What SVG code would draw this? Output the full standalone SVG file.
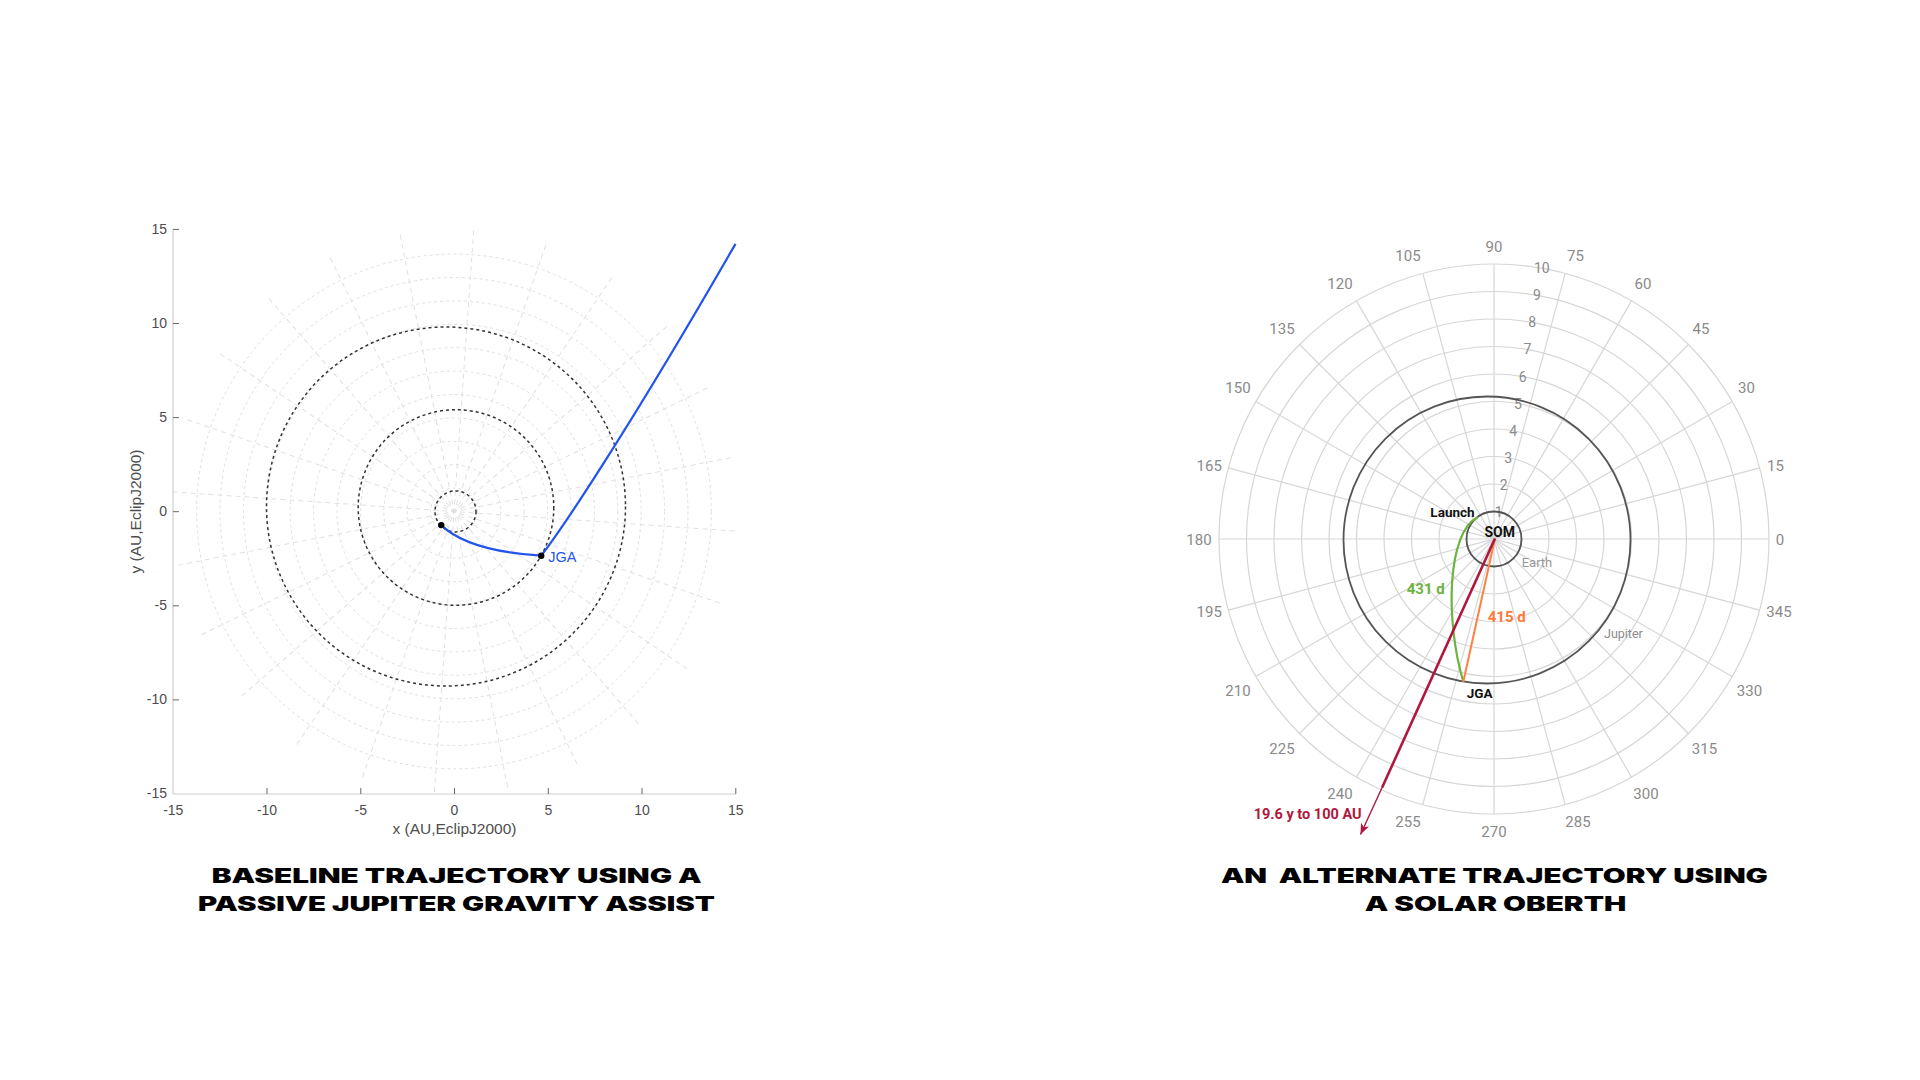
<svg xmlns="http://www.w3.org/2000/svg" width="1920" height="1080" viewBox="0 0 1920 1080">
<style>
.bg{fill:#ffffff}
.lgrid{fill:none;stroke:#e0e0e0;stroke-width:1;stroke-dasharray:3 3}
.lspoke{stroke:#e0e0e0;stroke-width:1;stroke-dasharray:5 4}
.orbit{fill:none;stroke:#333;stroke-width:1.5;stroke-dasharray:3 3}
.axis{stroke:#cfcfcf;stroke-width:1.2;fill:none}
.tick{stroke:#666;stroke-width:1}
.ltxt{font-family:"Liberation Sans",Arial,sans-serif;font-size:14px;fill:#4d4d4d}
.lax{font-family:"Liberation Sans",Arial,sans-serif;font-size:15.5px;fill:#4d4d4d}
.traj{fill:none;stroke:#2255ee;stroke-width:2.2}
.rring{fill:none;stroke:#d6d6d6;stroke-width:1.2}
.rspoke{stroke:#d6d6d6;stroke-width:1.2}
.rorbit{fill:none;stroke:#555;stroke-width:1.8}
.ang{font-family:Roboto,"Liberation Sans",sans-serif;font-size:15px;fill:#8a8a8a;text-anchor:middle;dominant-baseline:central}
.rad{font-family:Roboto,"Liberation Sans",sans-serif;font-size:14px;fill:#8a8a8a;text-anchor:middle;dominant-baseline:central}
.rb{font-family:Roboto,"Liberation Sans",sans-serif;font-weight:bold}
.title{font-family:Inter,"Liberation Sans",sans-serif;font-weight:900;font-size:19.5px;fill:#000;text-anchor:middle;white-space:pre}
</style>
<defs>
<clipPath id="axclip"><rect x="173" y="229" width="563" height="565"/></clipPath>
<marker id="arr" markerUnits="userSpaceOnUse" markerWidth="12" markerHeight="10" refX="11" refY="5" orient="auto">
<path d="M0,0.5 L11,5 L0,9.5 L3,5 z" fill="#b0173c"/>
</marker>
</defs>
<rect class="bg" x="0" y="0" width="1920" height="1080"/>

<g id="left-plot">
<g id="left-grid" clip-path="url(#axclip)">
<g transform="translate(454,511.5)">
<circle class="lgrid" r="23.4"/><circle class="lgrid" r="46.8"/><circle class="lgrid" r="70.2"/><circle class="lgrid" r="93.6"/>
<circle class="lgrid" r="117"/><circle class="lgrid" r="140.4"/><circle class="lgrid" r="163.8"/><circle class="lgrid" r="187.2"/>
<circle class="lgrid" r="210.6"/><circle class="lgrid" r="234"/><circle class="lgrid" r="257.4"/>
<g transform="rotate(4)">
<line class="lspoke" x1="-282" y1="0" x2="282" y2="0"/>
<line class="lspoke" x1="-282" y1="0" x2="282" y2="0" transform="rotate(15)"/>
<line class="lspoke" x1="-282" y1="0" x2="282" y2="0" transform="rotate(30)"/>
<line class="lspoke" x1="-282" y1="0" x2="282" y2="0" transform="rotate(45)"/>
<line class="lspoke" x1="-282" y1="0" x2="282" y2="0" transform="rotate(60)"/>
<line class="lspoke" x1="-282" y1="0" x2="282" y2="0" transform="rotate(75)"/>
<line class="lspoke" x1="-282" y1="0" x2="282" y2="0" transform="rotate(90)"/>
<line class="lspoke" x1="-282" y1="0" x2="282" y2="0" transform="rotate(105)"/>
<line class="lspoke" x1="-282" y1="0" x2="282" y2="0" transform="rotate(120)"/>
<line class="lspoke" x1="-282" y1="0" x2="282" y2="0" transform="rotate(135)"/>
<line class="lspoke" x1="-282" y1="0" x2="282" y2="0" transform="rotate(150)"/>
<line class="lspoke" x1="-282" y1="0" x2="282" y2="0" transform="rotate(165)"/>
</g>
</g>
</g>
<g id="left-axes">
<line class="axis" x1="173" y1="229" x2="173" y2="794"/>
<line class="axis" x1="173" y1="794" x2="736" y2="794"/>
<line class="tick" x1="173" y1="229.4" x2="179" y2="229.4"/>
<line class="tick" x1="173" y1="323.5" x2="179" y2="323.5"/>
<line class="tick" x1="173" y1="417.6" x2="179" y2="417.6"/>
<line class="tick" x1="173" y1="511.7" x2="179" y2="511.7"/>
<line class="tick" x1="173" y1="605.8" x2="179" y2="605.8"/>
<line class="tick" x1="173" y1="699.9" x2="179" y2="699.9"/>
<line class="tick" x1="267" y1="794" x2="267" y2="788"/>
<line class="tick" x1="360.8" y1="794" x2="360.8" y2="788"/>
<line class="tick" x1="454.5" y1="794" x2="454.5" y2="788"/>
<line class="tick" x1="548.3" y1="794" x2="548.3" y2="788"/>
<line class="tick" x1="642" y1="794" x2="642" y2="788"/>
<line class="tick" x1="735.8" y1="794" x2="735.8" y2="788"/>
<g class="ltxt" text-anchor="end">
<text x="167" y="234">15</text>
<text x="167" y="328">10</text>
<text x="167" y="422">5</text>
<text x="167" y="516">0</text>
<text x="167" y="610">-5</text>
<text x="167" y="704">-10</text>
<text x="167" y="798">-15</text>
</g>
<g class="ltxt" text-anchor="middle">
<text x="173.3" y="814.5">-15</text>
<text x="267" y="814.5">-10</text>
<text x="360.8" y="814.5">-5</text>
<text x="454.5" y="814.5">0</text>
<text x="548.3" y="814.5">5</text>
<text x="642" y="814.5">10</text>
<text x="735.8" y="814.5">15</text>
</g>
<text class="lax" x="454.5" y="834" text-anchor="middle">x (AU,EclipJ2000)</text>
<text class="lax" x="0" y="0" text-anchor="middle" transform="translate(141,511.5) rotate(-90)">y (AU,EclipJ2000)</text>
</g>
<g id="left-orbits">
<circle id="earth-orbit-l" class="orbit" cx="455.5" cy="511.4" r="20.5"/>
<circle id="jupiter-orbit-l" class="orbit" cx="456" cy="507.5" r="97.8"/>
<circle id="saturn-orbit-l" class="orbit" cx="446" cy="506.5" r="179.5"/>
</g>
<g id="left-trajectory">
<path class="traj" d="M441.2,525.1 Q468,551 541.2,555.7"/>
<path class="traj" d="M541.2,555.7 C570,518 640,410 735.5,243.9"/>
</g>
<g id="node-launch-l"><circle cx="441.2" cy="525.1" r="3.2" fill="#000"/></g>
<g id="node-jga-l"><circle cx="541.2" cy="555.7" r="3.2" fill="#000"/>
<text x="548.3" y="561.7" font-family="Liberation Sans,Arial,sans-serif" font-size="14.5" fill="#2255ee">JGA</text></g>
</g>

<g id="right-plot">
<g id="right-grid" transform="translate(1494,539)">
<circle class="rring" r="27.5"/><circle class="rring" r="55"/><circle class="rring" r="82.5"/><circle class="rring" r="110"/>
<circle class="rring" r="137.5"/><circle class="rring" r="165"/><circle class="rring" r="192.5"/><circle class="rring" r="220"/>
<circle class="rring" r="247.5"/><circle class="rring" r="275"/>
<line class="rspoke" x1="-275" y1="0" x2="275" y2="0"/>
<line class="rspoke" x1="-275" y1="0" x2="275" y2="0" transform="rotate(15)"/>
<line class="rspoke" x1="-275" y1="0" x2="275" y2="0" transform="rotate(30)"/>
<line class="rspoke" x1="-275" y1="0" x2="275" y2="0" transform="rotate(45)"/>
<line class="rspoke" x1="-275" y1="0" x2="275" y2="0" transform="rotate(60)"/>
<line class="rspoke" x1="-275" y1="0" x2="275" y2="0" transform="rotate(75)"/>
<line class="rspoke" x1="-275" y1="0" x2="275" y2="0" transform="rotate(90)"/>
<line class="rspoke" x1="-275" y1="0" x2="275" y2="0" transform="rotate(105)"/>
<line class="rspoke" x1="-275" y1="0" x2="275" y2="0" transform="rotate(120)"/>
<line class="rspoke" x1="-275" y1="0" x2="275" y2="0" transform="rotate(135)"/>
<line class="rspoke" x1="-275" y1="0" x2="275" y2="0" transform="rotate(150)"/>
<line class="rspoke" x1="-275" y1="0" x2="275" y2="0" transform="rotate(165)"/>
</g>
<g id="angle-labels">
<text class="ang" x="1780" y="539.8">0</text>
<text class="ang" x="1775.5" y="466.4">15</text>
<text class="ang" x="1746.5" y="387.8">30</text>
<text class="ang" x="1701" y="328.7">45</text>
<text class="ang" x="1643" y="283.8">60</text>
<text class="ang" x="1575.5" y="256.1">75</text>
<text class="ang" x="1494" y="247">90</text>
<text class="ang" x="1408" y="256.1">105</text>
<text class="ang" x="1340" y="283.8">120</text>
<text class="ang" x="1282" y="328.7">135</text>
<text class="ang" x="1238" y="387.8">150</text>
<text class="ang" x="1209.2" y="466.4">165</text>
<text class="ang" x="1199" y="539.8">180</text>
<text class="ang" x="1209.2" y="612.4">195</text>
<text class="ang" x="1238" y="690.6">210</text>
<text class="ang" x="1282" y="749.3">225</text>
<text class="ang" x="1340" y="793.8">240</text>
<text class="ang" x="1408" y="822.3">255</text>
<text class="ang" x="1494" y="832">270</text>
<text class="ang" x="1578" y="822.3">285</text>
<text class="ang" x="1646" y="793.8">300</text>
<text class="ang" x="1704.5" y="749.3">315</text>
<text class="ang" x="1749.5" y="690.6">330</text>
<text class="ang" x="1779" y="612.4">345</text>
</g>
<g id="radius-labels">
<text class="rad" x="1498.8" y="511.9">1</text>
<text class="rad" x="1503.6" y="484.8">2</text>
<text class="rad" x="1508.3" y="457.8">3</text>
<text class="rad" x="1513.1" y="430.7">4</text>
<text class="rad" x="1517.9" y="403.6">5</text>
<text class="rad" x="1522.7" y="376.5">6</text>
<text class="rad" x="1527.4" y="349.4">7</text>
<text class="rad" x="1532.2" y="322.4">8</text>
<text class="rad" x="1537" y="295.3">9</text>
<text class="rad" x="1541.8" y="268.2">10</text>
</g>
<g id="right-orbits">
<circle id="jupiter-orbit-r" class="rorbit" cx="1487" cy="540" r="143.5"/>
<circle id="earth-orbit-r" class="rorbit" cx="1494" cy="539" r="27.5" stroke-width="1.6"/>
<text x="1604" y="637.5" font-family="Roboto,Liberation Sans,sans-serif" font-size="12.5" fill="#8a8a8a">Jupiter</text>
<text x="1521.7" y="566.5" font-family="Roboto,Liberation Sans,sans-serif" font-size="13" fill="#999">Earth</text>
</g>
<g id="connectors">
<path id="leg-green" d="M1477.7,517.3 C1447,532 1445,620 1463.3,681.7" fill="none" stroke="#6db33f" stroke-width="2.2"/>
<line id="leg-orange" x1="1495" y1="538.5" x2="1463.3" y2="681.7" stroke="#ff8040" stroke-width="2"/>
<line id="leg-crimson" x1="1495" y1="538.5" x2="1382" y2="787.8" stroke="#b0173c" stroke-width="2.6"/>
<line id="leg-crimson-tail" x1="1382" y1="787.8" x2="1360.5" y2="834.5" stroke="#b0173c" stroke-width="1.4" marker-end="url(#arr)"/>
</g>
<g id="node-som"><text class="rb" x="1499.7" y="536.7" font-size="14" fill="#111" text-anchor="middle">SOM</text></g>
<g id="node-launch"><text class="rb" x="1452.5" y="516.5" font-size="13.5" fill="#111" text-anchor="middle">Launch</text></g>
<g id="node-jga"><text class="rb" x="1479.7" y="698" font-size="13.5" fill="#111" text-anchor="middle">JGA</text></g>
<g id="labels-legs">
<text class="rb" x="1406.7" y="593.5" font-size="15" fill="#6db33f">431 d</text>
<text class="rb" x="1487.7" y="622" font-size="15" fill="#ff7a3a">415 d</text>
<text class="rb" x="1361.6" y="819" font-size="14.5" fill="#b0173c" text-anchor="end">19.6 y to 100 AU</text>
</g>
</g>

<g id="titles">
<text class="title" x="456.7" y="882.5" textLength="490" lengthAdjust="spacingAndGlyphs">BASELINE TRAJECTORY USING A</text>
<text class="title" x="456.5" y="910.5" textLength="517" lengthAdjust="spacingAndGlyphs">PASSIVE JUPITER GRAVITY ASSIST</text>
<text class="title" x="1494.4" y="882.5" textLength="547" lengthAdjust="spacingAndGlyphs" xml:space="preserve">AN  ALTERNATE TRAJECTORY USING</text>
<text class="title" x="1495.5" y="910.5" textLength="261.5" lengthAdjust="spacingAndGlyphs">A SOLAR OBERTH</text>
</g>
</svg>
